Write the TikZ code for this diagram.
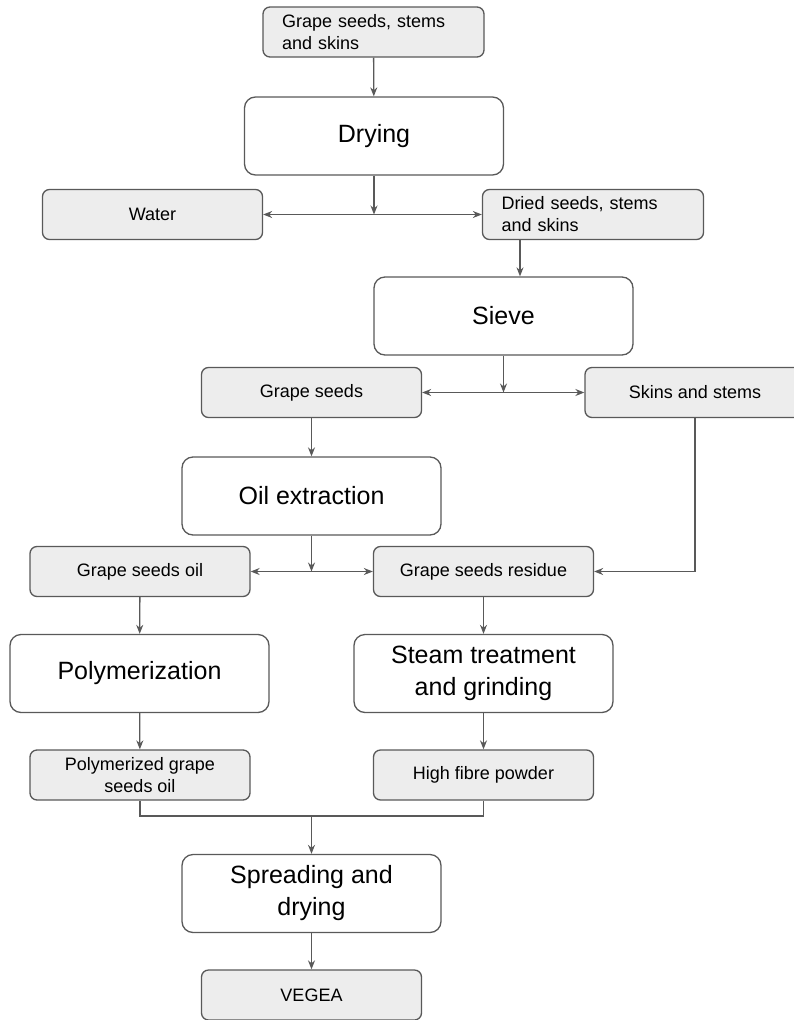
\documentclass[tikz,border=0pt]{standalone}
\usepackage{fontspec}
\setmainfont{Liberation Sans}
\usetikzlibrary{arrows.meta}

\begin{document}
\begin{tikzpicture}[x=1pt, y=-1pt,
			base/.style={draw=black!65, line width=1.3pt, text=black},
			block/.style={base, fill=white, rounded corners=11pt, minimum width=259pt, minimum height=78pt, font=\fontsize{25}{32}\selectfont, align=center},
			item/.style={base, fill=black!7, rounded corners=7pt, minimum width=220pt, minimum height=50pt, font=\fontsize{18}{22}\selectfont, align=center},
			itemleft/.style={item, align=left, inner xsep=19pt, text width=183pt},
			link/.style={draw=black!65, line width=1.3pt},
			>={Stealth[length=9pt, width=7pt]},
		]

		\useasboundingbox (0,0) rectangle (794,1020);

		\node[itemleft] (raw) at (373.5,32) {Grape seeds, stems\\and skins};
		\node[block] (drying) at (374,136) {Drying};
		\node[item] (water) at (152.5,214.5) {Water};
		\node[itemleft] (dried) at (593,214.5) {Dried seeds, stems\\and skins};
		\node[block] (sieve) at (503.5,316) {Sieve};
		\node[item] (seeds) at (311.5,392.5) {Grape seeds};
		\node[item] (skins) at (695,392.5) {Skins and stems};
		\node[block] (oil) at (311.5,496) {Oil extraction};
		\node[item] (gso) at (140,571.5) {Grape seeds oil};
		\node[item] (gsr) at (483.5,571.5) {Grape seeds residue};
		\node[block] (poly) at (139.5,673.5) {Polymerization};
		\node[block] (steam) at (483.5,673.5) {Steam treatment\\and grinding};
		\node[item] (pgso) at (140,775) {Polymerized grape\\seeds oil};
		\node[item] (hfp) at (483.5,775) {High fibre powder};
		\node[block] (spread) at (311.5,893.5) {Spreading and\\drying};
		\node[item] (vegea) at (311.5,995) {VEGEA};

		\coordinate (merge) at ([yshift=38pt]spread.north);

		\draw[link, ->] (raw) -- (drying);
		\draw[link, ->] (drying) -- (drying |- water);
		\draw[link, <->] (water) -- (dried);
		\draw[link, ->] ([xshift=-73pt]dried.south) -- ([xshift=-73pt]dried.south |- sieve.north);
		\draw[link, ->] (sieve) -- (sieve |- seeds);
		\draw[link, <->] (seeds) -- (skins);
		\draw[link, ->] (seeds) -- (oil);
		\draw[link, ->] (oil) -- (oil |- gso);
		\draw[link, <->] (gso) -- (gsr);
		\draw[link, ->] (skins) |- (gsr);
		\draw[link, ->] (gso) -- (poly);
		\draw[link, ->] (gsr) -- (steam);
		\draw[link, ->] (poly) -- (pgso);
		\draw[link, ->] (steam) -- (hfp);
		\draw[link] (pgso) |- (merge) -| (hfp);
		\draw[link, ->] (merge) -- (spread);
		\draw[link, ->] (spread) -- (vegea);

		\end{tikzpicture}
\end{document}
